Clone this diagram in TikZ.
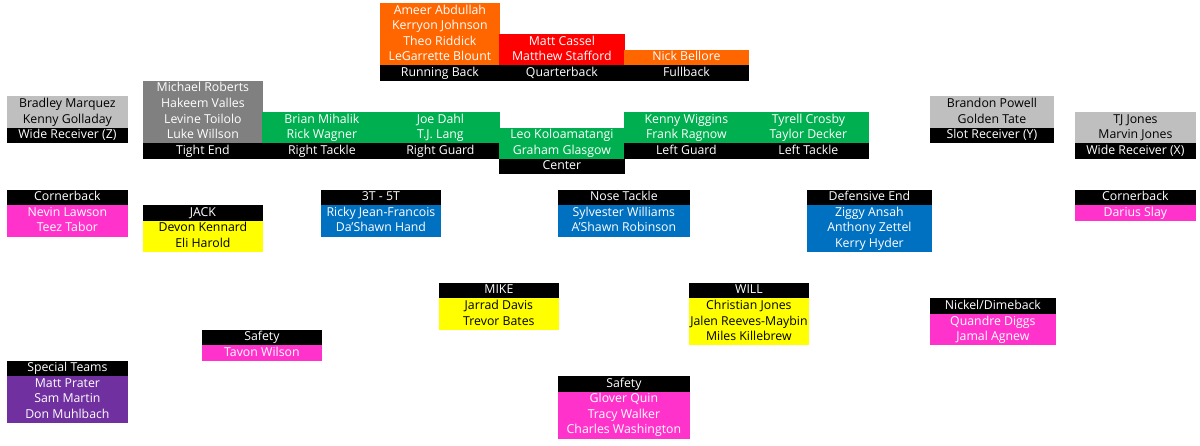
\documentclass[tikz,border=0pt]{standalone}
\usepackage{fontspec}
\setmainfont{Open Sans}
\definecolor{orangeC}{HTML}{FF6600}
\definecolor{redC}{HTML}{FF0000}
\definecolor{greenC}{HTML}{00B050}
\definecolor{grayD}{HTML}{808080}
\definecolor{grayL}{HTML}{BFBFBF}
\definecolor{blueC}{HTML}{0070C0}
\definecolor{pinkC}{HTML}{FF33CC}
\definecolor{yellowC}{HTML}{FFFF00}
\definecolor{purpleC}{HTML}{7030A0}
\tikzset{
  cel/.style={anchor=north west, inner sep=0pt, minimum height=15.9pt,
    font=\fontsize{12.3}{13}\selectfont, text height=9pt, text depth=2.8pt, align=center},
}
\newcommand\cel[7]{\node[cel, fill=#5, text=#6, minimum width={#3-#2+0.4}] (#1) at (#2, {3+15.54*#4}) {#7};}
\newcommand\hdr[5]{\cel{#1}{#2}{#3}{#4}{black}{white}{#5}}
\begin{document}
\begin{tikzpicture}[x=1pt,y=-1pt]
\useasboundingbox[fill=white] (0,0) rectangle (1200,446);
% ---------- Offense ----------
% Running back
\cel{rb1}{380}{499}{0}{orangeC}{white}{Ameer Abdullah}
\cel{rb2}{380}{499}{1}{orangeC}{white}{Kerryon Johnson}
\cel{rb3}{380}{499}{2}{orangeC}{white}{Theo Riddick}
\cel{rb4}{380}{499}{3}{orangeC}{white}{LeGarrette Blount}
\hdr{rbh}{380}{499}{4}{Running Back}
% Quarterback
\cel{qb1}{499}{624}{2}{redC}{white}{Matt Cassel}
\cel{qb2}{499}{624}{3}{redC}{white}{Matthew Stafford}
\hdr{qbh}{499}{624}{4}{Quarterback}
% Fullback
\cel{fb1}{624}{748}{3}{orangeC}{white}{Nick Bellore}
\hdr{fbh}{624}{748}{4}{Fullback}
% Tight end
\cel{te1}{143}{262}{5}{grayD}{white}{Michael Roberts}
\cel{te2}{143}{262}{6}{grayD}{white}{Hakeem Valles}
\cel{te3}{143}{262}{7}{grayD}{white}{Levine Toilolo}
\cel{te4}{143}{262}{8}{grayD}{white}{Luke Willson}
\hdr{teh}{143}{262}{9}{Tight End}
% Right tackle
\cel{rt1}{262}{381}{7}{greenC}{white}{Brian Mihalik}
\cel{rt2}{262}{381}{8}{greenC}{white}{Rick Wagner}
\hdr{rth}{262}{381}{9}{Right Tackle}
% Right guard
\cel{rg1}{381}{499}{7}{greenC}{white}{Joe Dahl}
\cel{rg2}{381}{499}{8}{greenC}{white}{T.J. Lang}
\hdr{rgh}{381}{499}{9}{Right Guard}
% Center
\cel{c1}{499}{624}{8}{greenC}{white}{Leo Koloamatangi}
\cel{c2}{499}{624}{9}{greenC}{white}{Graham Glasgow}
\hdr{ch}{499}{624}{10}{Center}
% Left guard
\cel{lg1}{624}{748}{7}{greenC}{white}{Kenny Wiggins}
\cel{lg2}{624}{748}{8}{greenC}{white}{Frank Ragnow}
\hdr{lgh}{624}{748}{9}{Left Guard}
% Left tackle
\cel{lt1}{748}{868}{7}{greenC}{white}{Tyrell Crosby}
\cel{lt2}{748}{868}{8}{greenC}{white}{Taylor Decker}
\hdr{lth}{748}{868}{9}{Left Tackle}
% Wide receiver Z
\cel{wz1}{7}{127}{6}{grayL}{black}{Bradley Marquez}
\cel{wz2}{7}{127}{7}{grayL}{black}{Kenny Golladay}
\hdr{wzh}{7}{127}{8}{Wide Receiver (Z)}
% Slot receiver Y
\cel{sy1}{930}{1053}{6}{grayL}{black}{Brandon Powell}
\cel{sy2}{930}{1053}{7}{grayL}{black}{Golden Tate}
\hdr{syh}{930}{1053}{8}{Slot Receiver (Y)}
% Wide receiver X
\cel{wx1}{1075}{1195}{7}{grayL}{black}{TJ Jones}
\cel{wx2}{1075}{1195}{8}{grayL}{black}{Marvin Jones}
\hdr{wxh}{1075}{1195}{9}{Wide Receiver (X)}
% ---------- Defense ----------
% Cornerback left
\hdr{cblh}{7}{127}{12}{Cornerback}
\cel{cbl1}{7}{127}{13}{pinkC}{white}{Nevin Lawson}
\cel{cbl2}{7}{127}{14}{pinkC}{white}{Teez Tabor}
% JACK
\hdr{jkh}{143}{262}{13}{JACK}
\cel{jk1}{143}{262}{14}{yellowC}{black}{Devon Kennard}
\cel{jk2}{143}{262}{15}{yellowC}{black}{Eli Harold}
% 3T - 5T
\hdr{tth}{321}{440}{12}{3T - 5T}
\cel{tt1}{321}{440}{13}{blueC}{white}{Ricky Jean-Francois}
\cel{tt2}{321}{440}{14}{blueC}{white}{Da'Shawn Hand}
% Nose tackle
\hdr{nth}{558}{689}{12}{Nose Tackle}
\cel{nt1}{558}{689}{13}{blueC}{white}{Sylvester Williams}
\cel{nt2}{558}{689}{14}{blueC}{white}{A'Shawn Robinson}
% Defensive end
\hdr{deh}{807}{931}{12}{Defensive End}
\cel{de1}{807}{931}{13}{blueC}{white}{Ziggy Ansah}
\cel{de2}{807}{931}{14}{blueC}{white}{Anthony Zettel}
\cel{de3}{807}{931}{15}{blueC}{white}{Kerry Hyder}
% Cornerback right
\hdr{cbrh}{1075}{1195}{12}{Cornerback}
\cel{cbr1}{1075}{1195}{13}{pinkC}{white}{Darius Slay}
% MIKE
\hdr{mkh}{439}{558}{18}{MIKE}
\cel{mk1}{439}{558}{19}{yellowC}{black}{Jarrad Davis}
\cel{mk2}{439}{558}{20}{yellowC}{black}{Trevor Bates}
% WILL
\hdr{wlh}{689}{808}{18}{WILL}
\cel{wl1}{689}{808}{19}{yellowC}{black}{Christian Jones}
\cel{wl2}{689}{808}{20}{yellowC}{black}{Jalen Reeves-Maybin}
\cel{wl3}{689}{808}{21}{yellowC}{black}{Miles Killebrew}
% Nickel/Dimeback
\hdr{ndh}{930}{1055}{19}{Nickel/Dimeback}
\cel{nd1}{930}{1055}{20}{pinkC}{white}{Quandre Diggs}
\cel{nd2}{930}{1055}{21}{pinkC}{white}{Jamal Agnew}
% Safety (left)
\hdr{sfah}{202}{321}{21}{Safety}
\cel{sfa1}{202}{321}{22}{pinkC}{white}{Tavon Wilson}
% Special teams
\hdr{sth}{7}{127}{23}{Special Teams}
\cel{st1}{7}{127}{24}{purpleC}{white}{Matt Prater}
\cel{st2}{7}{127}{25}{purpleC}{white}{Sam Martin}
\cel{st3}{7}{127}{26}{purpleC}{white}{Don Muhlbach}
% Safety (center)
\hdr{sfbh}{558}{689}{24}{Safety}
\cel{sfb1}{558}{689}{25}{pinkC}{white}{Glover Quin}
\cel{sfb2}{558}{689}{26}{pinkC}{white}{Tracy Walker}
\cel{sfb3}{558}{689}{27}{pinkC}{white}{Charles Washington}
\end{tikzpicture}
\end{document}
